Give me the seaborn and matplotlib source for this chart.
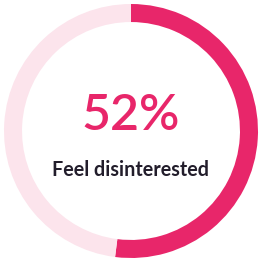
import matplotlib.pyplot as plt
import seaborn as sns

# Data
labels = ["Feel disinterested", "Other"]
values = [52, 48]
colors = ["#E8266A", "#FCE4EC"]
headline = "52%"
caption = "Feel disinterested"

sns.set_style("white")
plt.rcParams['font.family'] = ['Lato', 'DejaVu Sans']

fig = plt.figure(figsize=(2.59, 2.62), dpi=100)
ax = fig.add_axes([0, 0, 1, 1])

ax.pie(values, colors=colors, startangle=90, counterclock=False,
       radius=1, wedgeprops=dict(width=0.142, linewidth=0))

ax.text(0, 0.12, headline, ha='center', va='center', fontsize=36,
        color=colors[0], fontweight='semibold')
ax.text(0, -0.31, caption, ha='center', va='center', fontsize=14.2,
        color="#221D2B", fontweight='bold')

ax.set_xlim(-1.0315, 1.0079)
ax.set_ylim(-1.0315, 1.0315)
ax.set_aspect('auto')
ax.axis('off')

fig.savefig("out.png", dpi=100)
